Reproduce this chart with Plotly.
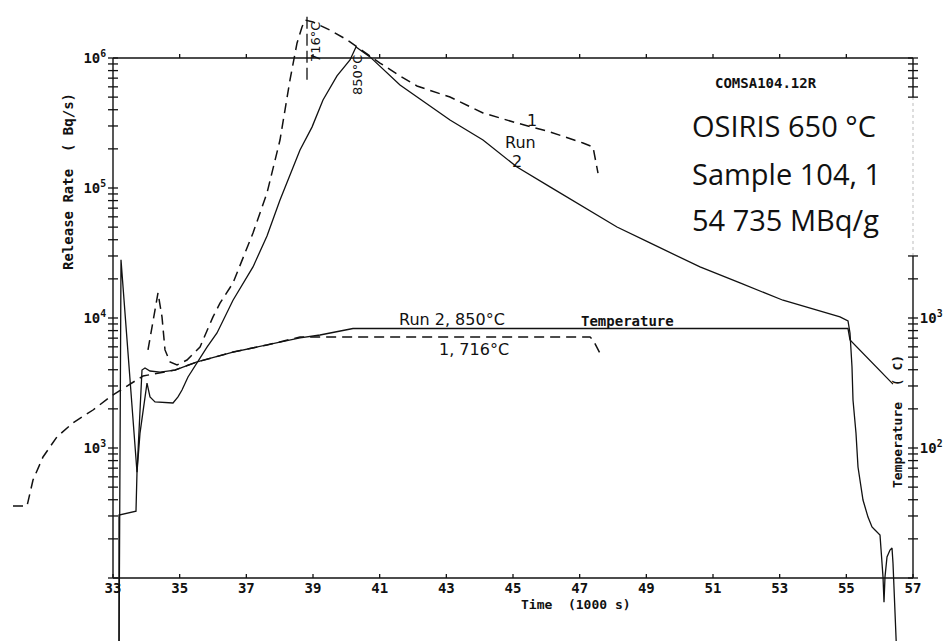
import plotly.graph_objects as go

# ---------------- data ----------------
# Run 2 (850 °C): release rate, Bq/s, time in 1000 s
run2_time = [33.18, 33.24, 33.72, 33.81, 34.02, 34.11, 34.26, 34.80, 34.95, 35.07,
             35.25, 35.52, 35.82, 36.12, 36.60, 37.20, 37.62, 38.01, 38.31, 38.61,
             38.97, 39.30, 39.72, 40.11, 40.29, 40.71, 41.61, 42.12, 43.11, 44.10,
             45.12, 46.11, 47.10, 48.12, 49.11, 50.61, 51.81, 53.10, 54.81, 55.05,
             55.11, 55.17, 55.20, 55.29, 55.35, 55.44, 55.50, 55.65, 55.77, 55.86,
             55.95, 56.01, 56.10, 56.13, 56.16, 56.22, 56.31, 56.37, 56.40, 56.46,
             56.52]
run2_rate = [25, 28000, 650, 1300, 3160, 2470, 2260, 2220, 2470, 2790,
             3520, 4510, 5980, 7670, 13700, 24700, 42800, 80900, 128000, 196000,
             294000, 475000, 728000, 966000, 1.216e6, 1.02e6, 6.2e5, 5.0e5, 3.33e5, 2.34e5,
             1.45e5, 1.02e5, 71400, 50100, 37800, 24700, 18600, 13700, 10200, 9490,
             7670, 4200, 2340, 1300, 714, 501, 398, 294, 247, 234,
             222, 214, 102, 65, 102, 145, 164, 170, 130, 50,
             23]

# Run 1 (716 °C): release rate, Bq/s
run1_time = [34.05, 34.26, 34.35, 34.47, 34.56, 34.71, 34.92, 35.22, 35.61, 36.00,
             36.21, 36.60, 37.20, 37.62, 38.01, 38.31, 38.52, 38.67, 38.76, 39.00,
             39.51, 40.02, 40.32, 41.01, 41.61, 42.12, 43.11, 44.10, 45.12, 46.11,
             47.10, 47.40, 47.55]
run1_rate = [5680, 11500, 15600, 10200, 5680, 4590, 4350, 4750, 5980, 10200,
             13000, 18600, 45100, 91500, 234000, 678000, 1.30e6, 1.73e6, 1.96e6, 1.89e6,
             1.64e6, 1.38e6, 1.216e6, 9.15e5, 7.28e5, 6.09e5, 5.01e5, 3.78e5, 3.16e5, 2.70e5,
             2.22e5, 2.07e5, 1.30e5]

# Temperatures, °C
run2_temp_time = [33.18, 33.18, 33.69, 33.72, 33.87, 33.96, 34.11, 34.41, 34.86, 35.52,
                  36.60, 37.62, 38.61, 39.21, 40.20, 55.05, 55.11, 56.40]
run2_temp = [2.5, 30.5, 32.7, 65, 398, 412, 391, 384, 398, 459,
             547, 620, 702, 740, 830, 830, 678, 310]
run1_temp_time = [30.00, 30.42, 30.60, 30.90, 31.32, 31.80, 32.40, 32.91, 33.18, 33.90,
                  34.86, 35.52, 36.60, 37.62, 38.61, 47.31, 47.40, 47.67]
run1_temp = [35.8, 35.8, 56.7, 85.3, 122, 156, 196, 247, 274, 358,
             398, 459, 547, 620, 714, 714, 678, 501]

x_ticks = list(range(33, 58, 2))
x_top_ticks = list(range(35, 56, 2))
left_decades = [2, 3, 4, 5]
left_labelled = [3, 4, 5, 6]
right_low_decades = [1, 2, 3]
right_labelled = [2, 3]

# ---------------- layout geometry ----------------
W, H = 949, 641
AX_L, AX_R, AX_T, AX_B = 113, 913, 58, 578      # pixel box of the plotter frame
X_MIN, X_MAX = 33, 57
LOG_TOP, LOG_BOT = 6, 2
pxx = (AX_R - AX_L) / (X_MAX - X_MIN)
pxd = (AX_B - AX_T) / (LOG_TOP - LOG_BOT)
t0 = X_MIN - AX_L / pxx
t1 = t0 + W / pxx
L1 = LOG_TOP + AX_T / pxd
L0 = L1 - H / pxd

def P(x, y):
    return x / W, 1 - y / H

MONO = "DejaVu Sans Mono"
HAND = "DejaVu Sans"
BIG = "Open Sans"
INK = "#111"
CLEAR = "rgba(0,0,0,0)"

fig = go.Figure()
fig.add_trace(go.Scatter(x=run1_temp_time, y=run1_temp, mode="lines", yaxis="y2",
                         line=dict(color=INK, width=1.5, dash="10px,6px"), name="T run 1"))
fig.add_trace(go.Scatter(x=run2_temp_time, y=run2_temp, mode="lines", yaxis="y2",
                         line=dict(color=INK, width=1.3), name="T run 2"))
fig.add_trace(go.Scatter(x=run1_time, y=run1_rate, mode="lines",
                         line=dict(color=INK, width=1.5, dash="10px,6px"), name="Run 1"))
fig.add_trace(go.Scatter(x=run2_time, y=run2_rate, mode="lines",
                         line=dict(color=INK, width=1.3), name="Run 2"))

# tick mark positions (log minor ticks) and labelled decades
left_vals = [m * 10 ** e for e in left_decades for m in range(1, 10)] + [10 ** 6]
right_vals = [m * 10 ** e for e in right_low_decades for m in range(1, 10) if m * 10 ** e <= 3000]
right_vals += [m * 10 ** 4 for m in range(5, 10)] + [10 ** 5]

tickfont = dict(family=MONO, size=14, color=INK, weight="bold")

common_x = dict(range=[t0, t1], domain=[0, 1], showgrid=False, zeroline=False,
                showline=False, autorange=False)
common_y = dict(type="log", domain=[0, 1], showgrid=False, zeroline=False,
                showline=False, autorange=False)

fig.update_layout(
    width=W, height=H, autosize=False,
    margin=dict(l=0, r=0, t=0, b=0, pad=0),
    paper_bgcolor="white", plot_bgcolor="white",
    showlegend=False,
    xaxis=dict(**common_x, anchor="free", position=1 - AX_B / H, tickmode="array",
               tickvals=x_ticks, ticktext=[str(v) for v in x_ticks],
               ticks="", tickfont=tickfont),
    yaxis=dict(**common_y, range=[L0, L1], anchor="free", position=AX_L / W,
               tickmode="array", tickvals=[10 ** e for e in left_labelled],
               ticktext=[f"10<sup>{e}</sup>" for e in left_labelled],
               ticks="outside", ticklen=4, tickcolor=CLEAR, tickfont=tickfont),
    yaxis2=dict(**common_y, range=[L0 - 1, L1 - 1], overlaying="y", side="right",
                anchor="free", position=AX_R / W, tickmode="array",
                tickvals=[10 ** e for e in right_labelled],
                ticktext=[f"10<sup>{e}</sup>" for e in right_labelled],
                ticks="outside", ticklen=3, tickcolor=CLEAR, tickfont=tickfont),
)

# plotter frame (drawn only over the axis extent, as on the original)
line = dict(color=INK, width=1.4)
tick_line = dict(color=INK, width=1.3)
fig.add_shape(type="line", xref="x", yref="y", x0=X_MIN, x1=X_MAX, y0=10 ** LOG_BOT, y1=10 ** LOG_BOT, line=line)
fig.add_shape(type="line", xref="x", yref="y", x0=X_MIN, x1=X_MAX, y0=10 ** LOG_TOP, y1=10 ** LOG_TOP, line=line)
fig.add_shape(type="line", xref="x", yref="y", x0=X_MIN, x1=X_MIN, y0=10 ** LOG_BOT, y1=10 ** LOG_TOP, line=line)
fig.add_shape(type="line", xref="x", yref="y2", x0=X_MAX, x1=X_MAX, y0=10, y1=3000, line=line)
fig.add_shape(type="line", xref="x", yref="y2", x0=X_MAX, x1=X_MAX, y0=5e4, y1=1e5, line=line)
fig.add_shape(type="line", xref="x", yref="y2", x0=X_MAX, x1=X_MAX, y0=3000, y1=5e4,
              line=dict(color="#bbb", width=1, dash="dot"))

# crossing tick marks, placed from the tick lists
for v in left_vals:
    fig.add_shape(type="line", xref="x", yref="y", xsizemode="pixel", xanchor=X_MIN,
                  x0=-5, x1=5, y0=v, y1=v, line=tick_line)
for v in right_vals:
    fig.add_shape(type="line", xref="x", yref="y2", xsizemode="pixel", xanchor=X_MAX,
                  x0=-5, x1=5, y0=v, y1=v, line=tick_line)
for v in x_ticks:
    fig.add_shape(type="line", xref="x", yref="y", ysizemode="pixel", yanchor=10 ** LOG_BOT,
                  y0=-4, y1=4, x0=v, x1=v, line=tick_line)
for v in x_top_ticks:
    fig.add_shape(type="line", xref="x", yref="y", ysizemode="pixel", yanchor=10 ** LOG_TOP,
                  y0=-4, y1=4, x0=v, x1=v, line=tick_line)

# peak marker of run 1
fig.add_shape(type="line", xref="x", yref="y", x0=38.82, x1=38.82, y0=6.8e5, y1=2.2e6,
              line=dict(color=INK, width=1.3, dash="12px,5px"))

def note(text, x, y, font, size, angle=0, xanchor="center", weight="normal"):
    ax, ay = P(x, y)
    fig.add_annotation(text=text, x=ax, y=ay, xref="paper", yref="paper",
                       showarrow=False, textangle=angle, xanchor=xanchor, yanchor="middle",
                       font=dict(family=font, size=size, color=INK, weight=weight))

note("COMSA104.12R", 766, 83, MONO, 14, weight="bold")
note("OSIRIS 650 °C", 690, 125, BIG, 29, xanchor="left")
note("Sample 104, 1", 690, 173, BIG, 29, xanchor="left")
note("54 735 MBq/g", 690, 220, BIG, 29, xanchor="left")
note("1", 532, 120, HAND, 16)
note("Run", 520, 143, HAND, 16)
note("2", 517, 162, HAND, 16)
note("Run 2, 850°C", 452, 319, HAND, 16)
note("1, 716°C", 474, 349, HAND, 16)
note("Temperature", 627, 321, MONO, 14, weight="bold")
note("716°C", 316, 42, HAND, 13, angle=-90)
note("850°C", 358, 75, HAND, 13, angle=-90)
note("Release Rate  ( Bq/s)", 68, 182, MONO, 14, angle=-90, weight="bold")
note("Temperature  ( C)", 897, 422, MONO, 13, angle=-90, weight="bold")
note("Time  (1000 s)", 576, 604, MONO, 13, weight="bold")

fig.write_html("out.html")
